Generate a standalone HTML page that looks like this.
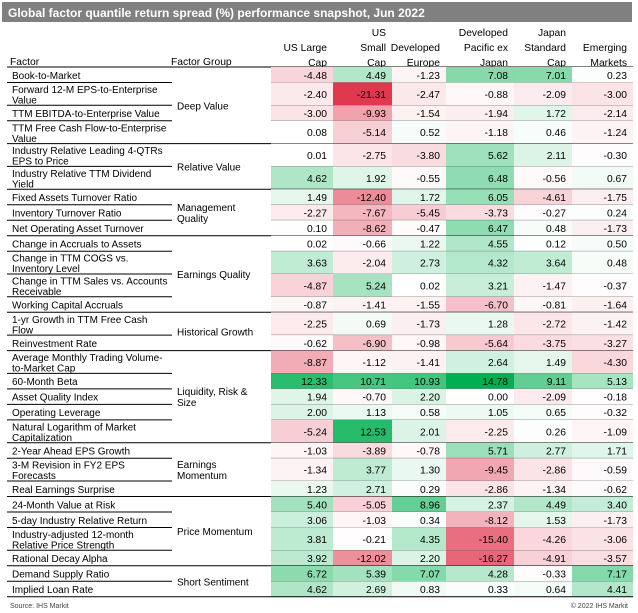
<!DOCTYPE html>
<html><head><meta charset="utf-8">
<style>
html,body{margin:0;padding:0;background:#fff;}
svg{display:block;font-family:"Liberation Sans",Arial,sans-serif;}
</style></head>
<body>
<svg id="chart" width="638" height="613" viewBox="0 0 638 613">
<rect x="2" y="2" width="630" height="20" fill="#808080"/>
<text x="8" y="17" font-size="12" font-weight="bold" fill="#fff">Global factor quantile return spread (%) performance snapshot, Jun 2022</text>
<text x="10" y="65" font-size="10.3" fill="#000">Factor</text>
<text x="171" y="65" font-size="10.3" fill="#000">Factor Group</text>
<line x1="7" y1="67" x2="633" y2="67" stroke="#000" stroke-width="1"/>
<text x="10" y="608" font-size="7" fill="#444">Source: IHS Markit</text>
<text x="628" y="608" font-size="7" fill="#444" text-anchor="end">© 2022 IHS Markit</text>
<g id="cells"></g>
</svg>
<script>
const factors = ["Book-to-Market","Forward 12-M EPS-to-Enterprise\nValue","TTM EBITDA-to-Enterprise Value","TTM Free Cash Flow-to-Enterprise\nValue","Industry Relative Leading 4-QTRs\nEPS to Price","Industry Relative TTM Dividend\nYield","Fixed Assets Turnover Ratio","Inventory Turnover Ratio","Net Operating Asset Turnover","Change in Accruals to Assets","Change in TTM COGS vs.\nInventory Level","Change in TTM Sales vs. Accounts\nReceivable","Working Capital Accruals","1-yr Growth in TTM Free Cash\nFlow","Reinvestment Rate","Average Monthly Trading Volume-\nto-Market Cap","60-Month Beta","Asset Quality Index","Operating Leverage","Natural Logarithm of Market\nCapitalization","2-Year Ahead EPS Growth","3-M Revision in FY2 EPS\nForecasts","Real Earnings Surprise","24-Month Value at Risk","5-day Industry Relative Return","Industry-adjusted 12-month\nRelative Price Strength","Rational Decay Alpha","Demand Supply Ratio","Implied Loan Rate"];
const groups = ["Deep Value","Relative Value","Management\nQuality","Earnings Quality","Historical Growth","Liquidity, Risk &\nSize","Earnings\nMomentum","Price Momentum","Short Sentiment"];
const groupSizes = [4,2,3,4,2,5,3,4,2];
const columns = ["\nUS Large\nCap","US\nSmall\nCap","\nDeveloped\nEurope","Developed\nPacific ex\nJapan","Japan\nStandard\nCap","\nEmerging\nMarkets"];
const usLarge = [-4.48,-2.40,-3.00,0.08,0.01,4.62,1.49,-2.27,0.10,0.02,3.63,-4.87,-0.87,-2.25,-0.62,-8.87,12.33,1.94,2.00,-5.24,-1.03,-1.34,1.23,5.40,3.06,3.81,3.92,6.72,4.62];
const usSmall = [4.49,-21.31,-9.93,-5.14,-2.75,1.92,-12.40,-7.67,-8.62,-0.66,-2.04,5.24,-1.41,0.69,-6.90,-1.12,10.71,-0.70,1.13,12.53,-3.89,3.77,2.71,-5.05,-1.03,-0.21,-12.02,5.39,2.69];
const devEurope = [-1.23,-2.47,-1.54,0.52,-3.80,-0.55,1.72,-5.45,-0.47,1.22,2.73,0.02,-1.55,-1.73,-0.98,-1.41,10.93,2.20,0.58,2.01,-0.78,1.30,0.29,8.96,0.34,4.35,2.20,7.07,0.83];
const devPacific = [7.08,-0.88,-1.94,-1.18,5.62,6.48,6.05,-3.73,6.47,4.55,4.32,3.21,-6.70,1.28,-5.64,2.64,14.78,0.00,1.05,-2.25,5.71,-9.45,-2.86,2.37,-8.12,-15.40,-16.27,4.28,0.33];
const japan = [7.01,-2.09,1.72,0.46,2.11,-0.56,-4.61,-0.27,0.48,0.12,3.64,-1.47,-0.81,-2.72,-3.75,1.49,9.11,-2.09,0.65,0.26,2.77,-2.86,-1.34,4.49,1.53,-4.26,-4.91,-0.33,0.64];
const emerging = [0.23,-3.00,-2.14,-1.24,-0.30,0.67,-1.75,0.24,-1.73,0.50,0.48,-0.37,-1.64,-1.42,-3.27,-4.30,5.13,-0.18,-0.32,-1.09,1.71,-0.59,-0.62,3.40,-1.73,-3.06,-3.57,7.17,4.41];

const series = [usLarge, usSmall, devEurope, devPacific, japan, emerging];
const NS = "http://www.w3.org/2000/svg";
const g = document.getElementById("cells");
const colEdges = [271,333,392,446,514,572,633];
const top0 = 67, hS = 15.5, hD = 22.8, FS = 10.3, FSL = 10;
function mk(tag, attrs, parent){const e=document.createElementNS(NS,tag);for(const k in attrs)e.setAttribute(k,attrs[k]);(parent||g).appendChild(e);return e;}
let all=[];series.forEach(s=>all=all.concat(s));
const maxPos=Math.max(...all), maxNeg=Math.abs(Math.min(...all));
function color(v){
  let t, c;
  if(v>=0){t=v/maxPos;c=[0,176,80];}else{t=-v/maxNeg;c=[224,56,79];}
  t=Math.min(1,t);
  const r=Math.round(255+(c[0]-255)*t),gg=Math.round(255+(c[1]-255)*t),b=Math.round(255+(c[2]-255)*t);
  return `rgb(${r},${gg},${b})`;
}
columns.forEach((c,j)=>{
  const lines=c.split("\n");
  lines.forEach((ln,k)=>{
    if(!ln)return;
    const t=mk("text",{x:colEdges[j+1]-6,y:36+k*15,"font-size":FS,"text-anchor":"end",fill:"#000"});
    
    
    t.textContent=ln;
  });
});
const rowY=[];let y=top0;
factors.forEach(f=>{const h=f.includes("\n")?hD:hS;rowY.push([y,h]);y+=h;});
const groupEnd=new Set();let acc=0;groupSizes.forEach(n=>{acc+=n;groupEnd.add(acc-1);});
factors.forEach((f,i)=>{
  const [ry,h]=rowY[i];
  series.forEach((s,j)=>{
    const v=s[i];
    const r=mk("rect",{x:colEdges[j],y:ry,width:colEdges[j+1]-colEdges[j],height:h,fill:color(v)});
    
    
    const t=mk("text",{x:colEdges[j+1]-6,y:ry+h/2+4,"font-size":FS,"text-anchor":"end",fill:"#000"});
    
    
    t.textContent=v.toFixed(2);
  });
  const lines=f.split("\n");
  lines.forEach((ln,k)=>{
    const ty=lines.length===1?ry+h/2+4:ry+10.5+k*10.5;
    const t=mk("text",{x:12,y:ty,"font-size":FSL,fill:"#000"});
    
    
    t.textContent=ln;
  });
  const yb=ry+h;
  const l1=mk("line",{x1:7,x2:172,y1:yb,y2:yb,stroke:"#000","stroke-width":1});
  
  
  const l2=mk("line",{x1:groupEnd.has(i)?172:271,x2:633,y1:yb,y2:yb,stroke:groupEnd.has(i)?"#000":"#555","stroke-width":groupEnd.has(i)?1:0.6});
  
  
});
let start=0;
groups.forEach((gname,gi)=>{
  const end=start+groupSizes[gi]-1;
  const y0=rowY[start][0], y1=rowY[end][0]+rowY[end][1];
  const mid=(y0+y1)/2;
  const lines=gname.split("\n");
  lines.forEach((ln,k)=>{
    const t=mk("text",{x:177,y:mid+4+(k-(lines.length-1)/2)*11,"font-size":FSL,fill:"#000"});
    
    
    t.textContent=ln;
  });
  start=end+1;
});
</script>
</body></html>
